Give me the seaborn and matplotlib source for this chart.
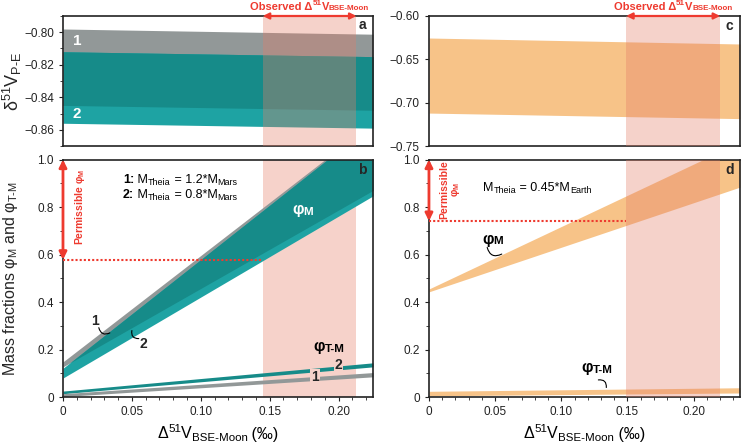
import numpy as np
import matplotlib
matplotlib.use('Agg')
import matplotlib.pyplot as plt
import matplotlib.transforms as mtransforms
from matplotlib.ticker import MultipleLocator, FuncFormatter
import seaborn as sns

# ---------------------------------------------------------------
# values (band edges at the x extent)
# ---------------------------------------------------------------
x_left = [0.0, 0.225]      # panels a, b  (Delta51V BSE-Moon, permil)
x_right = [0.0, 0.235]     # panels c, d

# panel a: delta51V P-E, case 1 (1.2 M_Mars) and case 2 (0.8 M_Mars)
a_band1_hi = [-0.798, -0.8012]
a_band1_lo = [-0.845, -0.848]
a_band2_hi = [-0.812, -0.815]
a_band2_lo = [-0.856, -0.859]

# panel b: mass fractions phi_M and phi_T-M
b_phiM1_hi = [0.148, 1.156]
b_phiM1_lo = [0.127, 0.870]
b_phiM2_hi = [0.121, 1.151]
b_phiM2_lo = [0.080, 0.847]
b_phiTM1_hi = [0.014, 0.103]
b_phiTM1_lo = [0.002, 0.085]
b_phiTM2_hi = [0.025, 0.144]
b_phiTM2_lo = [0.014, 0.127]
b_permissible = 0.578

# panel c: delta51V P-E, M_Theia = 0.45 M_Earth
c_band_hi = [-0.6254, -0.6323]
c_band_lo = [-0.712, -0.7184]

# panel d
d_phiM_hi = [0.455, 1.073]
d_phiM_lo = [0.443, 0.884]
d_phiTM_hi = [0.024, 0.039]
d_phiTM_lo = [0.005, 0.017]
d_permissible = 0.741

# observed Delta51V BSE-Moon range (shaded)
obs_left = [0.145, 0.213]
obs_right = [0.149, 0.220]

# colours
GRAY = '#929898'
TEAL_DARK = '#168b89'
TEAL_LIGHT = '#1ea3a3'
ORANGE = '#f7c388'
PINK = '#e57e68'
PINK_FLAT = '#f6d2ca'
RED = '#ee3a2f'

sns.set_theme(style='ticks')
plt.rcParams['font.family'] = ['Liberation Sans', 'DejaVu Sans']
plt.rcParams.update({
    'mathtext.fontset': 'custom',
    'mathtext.rm': 'Liberation Sans',
    'mathtext.it': 'Liberation Sans:italic',
    'mathtext.bf': 'Liberation Sans:bold',
    'axes.edgecolor': '#222222',
    'axes.linewidth': 1.2,
    'xtick.color': '#222222',
    'ytick.color': '#222222',
    'xtick.labelsize': 8.5,
    'ytick.labelsize': 8.5,
    'xtick.major.size': 3,
    'ytick.major.size': 3,
    'xtick.minor.size': 2,
    'ytick.minor.size': 2,
    'xtick.major.width': 0.8,
    'ytick.major.width': 0.8,
    'xtick.minor.width': 0.6,
    'ytick.minor.width': 0.6,
    'xtick.direction': 'out',
    'ytick.direction': 'out',
})

fig = plt.figure(figsize=(7.41, 4.43), dpi=100)
ax_a = fig.add_axes([0.085, 0.6704, 0.4184, 0.2935])
ax_b = fig.add_axes([0.085, 0.1038, 0.4184, 0.536])
ax_c = fig.add_axes([0.5789, 0.6704, 0.4197, 0.2935])
ax_d = fig.add_axes([0.5789, 0.1038, 0.4197, 0.536])

CENTERED = []


def rich_text(ax, x, y, parts, size, transform=None, color='black',
              weight='normal', sub_dy=-0.15, center=False, zorder=5):
    """Chain text pieces (normal / bold / sub / sup) along one baseline."""
    transform = transform or ax.transData
    pieces = []
    prev = None
    for s, kind in parts:
        small = kind in ('sub', 'sup')
        fs = size * 0.72 if small else size
        dy = {'sub': sub_dy * size, 'sup': 0.42 * size}.get(kind, 0.0)
        fw = 'bold' if (kind == 'b' or weight == 'bold') else 'normal'
        kw = dict(fontsize=fs, color=color, fontweight=fw, va='baseline',
                  ha='left', zorder=zorder)
        if prev is None:
            t = ax.text(x, y, s, transform=transform, **kw)
        else:
            t = ax.annotate(s, xy=(1, y), xycoords=(prev, transform),
                            xytext=(0, dy), textcoords='offset points',
                            annotation_clip=False, **kw)
        pieces.append(t)
        prev = t
    if center:
        CENTERED.append((pieces, transform))
    return pieces


def fmt(decimals):
    def f(v, pos):
        if abs(v) < 1e-9:
            return '0'
        return f'{v:.{decimals}f}'.replace('-', '\u2212')
    return FuncFormatter(f)


def overlap(ax, x, lo, hi, color, z):
    lo = np.asarray(lo)
    hi = np.asarray(hi)
    ax.fill_between(x, lo, hi, where=hi >= lo, interpolate=True,
                    color=color, lw=0, zorder=z)


def leader(ax, start, end, rad):
    ax.annotate('', xy=end, xytext=start,
                arrowprops=dict(arrowstyle='-', lw=0.8, color='black',
                                connectionstyle=f'arc3,rad={rad}',
                                shrinkA=0, shrinkB=0))


# ---------------- panel a ----------------
ax_a.fill_between(x_left, a_band1_lo, a_band1_hi, color=GRAY, lw=0, zorder=1)
ax_a.fill_between(x_left, a_band2_lo, a_band2_hi, color=TEAL_LIGHT, lw=0, zorder=1.1)
overlap(ax_a, x_left, a_band1_lo, a_band2_hi, TEAL_DARK, 1.2)
ax_a.axvspan(*obs_left, color=PINK, alpha=0.35, lw=0, zorder=3)
ax_a.set(xlim=x_left, ylim=(-0.87, -0.79))
ax_a.yaxis.set_major_locator(MultipleLocator(0.02))
ax_a.yaxis.set_minor_locator(MultipleLocator(0.01))
ax_a.yaxis.set_major_formatter(fmt(2))
ax_a.tick_params(axis='x', which='both', bottom=False, labelbottom=False)
ax_a.set_ylabel('δ$^{51}$V$_{\\text{P-E}}$', fontsize=13)
ax_a.yaxis.set_label_coords(-0.125, 0.5)
ax_a.text(0.007, -0.8053, '1', color='white', fontsize=11, fontweight='bold',
          va='center', zorder=4)
ax_a.text(0.007, -0.850, '2', color='white', fontsize=11, fontweight='bold',
          va='center', zorder=4)

# ---------------- panel b ----------------
ax_b.axvspan(*obs_left, color=PINK_FLAT, lw=0, zorder=0)
ax_b.fill_between(x_left, b_phiM1_lo, b_phiM1_hi, color=GRAY, lw=0, zorder=1)
ax_b.fill_between(x_left, b_phiM2_lo, b_phiM2_hi, color=TEAL_LIGHT, lw=0, zorder=1.1)
overlap(ax_b, x_left, b_phiM1_lo, b_phiM2_hi, TEAL_DARK, 1.2)
ax_b.fill_between(x_left, b_phiTM2_lo, b_phiTM2_hi, color=TEAL_DARK, lw=0, zorder=1)
ax_b.fill_between(x_left, b_phiTM1_lo, b_phiTM1_hi, color=GRAY, lw=0, zorder=1.1)
ax_b.set(xlim=x_left, ylim=(0, 1.0))

# ---------------- panel c ----------------
ax_c.fill_between(x_right, c_band_lo, c_band_hi, color=ORANGE, lw=0, zorder=1)
ax_c.axvspan(*obs_right, color=PINK, alpha=0.35, lw=0, zorder=3)
ax_c.set(xlim=x_right, ylim=(-0.75, -0.60))
ax_c.yaxis.set_major_locator(MultipleLocator(0.05))
ax_c.yaxis.set_major_formatter(fmt(2))
ax_c.tick_params(axis='x', which='both', bottom=False, labelbottom=False)

# ---------------- panel d ----------------
ax_d.fill_between(x_right, d_phiM_lo, d_phiM_hi, color=ORANGE, lw=0, zorder=1)
ax_d.fill_between(x_right, d_phiTM_lo, d_phiTM_hi, color=ORANGE, lw=0, zorder=1)
ax_d.axvspan(*obs_right, color=PINK, alpha=0.35, lw=0, zorder=3)
ax_d.set(xlim=x_right, ylim=(0, 1.0))

xlabel_parts = [('Δ', 'n'), ('51', 'sup'), ('V', 'n'), ('BSE-Moon', 'sub'),
                (' (‰)', 'n')]
for ax in (ax_b, ax_d):
    ax.xaxis.set_major_locator(MultipleLocator(0.05))
    ax.xaxis.set_minor_locator(MultipleLocator(0.01))
    ax.yaxis.set_major_locator(MultipleLocator(0.2))
    ax.yaxis.set_minor_locator(MultipleLocator(0.1))
    ax.xaxis.set_major_formatter(fmt(2))
    ax.yaxis.set_major_formatter(fmt(1))
    trans = mtransforms.blended_transform_factory(ax.transAxes, fig.transFigure)
    rich_text(ax, 0.5, 1 - 438.5 / 443, xlabel_parts, 11.5, transform=trans,
              center=True)

ax_b.set_ylabel('Mass fractions φ$_{\\text{M}}$ and φ$_{\\text{T-M}}$',
                fontsize=11.5)
ax_b.yaxis.set_label_coords(-0.14, 0.5)

# permissible phi_M thresholds and arrows
for ax, thr, obs in ((ax_b, b_permissible, obs_left), (ax_d, d_permissible, obs_right)):
    sns.lineplot(x=[0.0, obs[0]], y=[thr, thr], ax=ax, color=RED, lw=1.5,
                 dashes=False, linestyle=(0, (1, 1)), zorder=4)
    ax.annotate('', xy=(0, 1.0), xytext=(0, thr),
                arrowprops=dict(arrowstyle='<|-|>', color=RED, lw=2.0,
                                mutation_scale=11, shrinkA=0, shrinkB=0),
                zorder=5, annotation_clip=False)

ax_b.text(0.0125, 0.80, 'Permissible φ$_{\\mathbf{M}}$', color=RED, fontsize=7.5,
          fontweight='bold', rotation=90, ha='center', va='center', zorder=5)
ax_d.text(0.0165, 0.875, 'Permissible\nφ$_{\\mathbf{M}}$', color=RED, fontsize=7.5,
          fontweight='bold', rotation=90, ha='center', va='center',
          multialignment='center', linespacing=1.0, zorder=5)

# observed range arrows on top panels
for ax, obs in ((ax_a, obs_left), (ax_c, obs_right)):
    trans = mtransforms.blended_transform_factory(ax.transData, ax.transAxes)
    ax.annotate('', xy=(obs[1], 1.0), xytext=(obs[0], 1.0),
                xycoords=trans, textcoords=trans,
                arrowprops=dict(arrowstyle='<|-|>', color=RED, lw=1.6,
                                mutation_scale=9, shrinkA=0, shrinkB=0),
                zorder=5, annotation_clip=False)
    ftrans = mtransforms.blended_transform_factory(ax.transData, fig.transFigure)
    rich_text(ax, sum(obs) / 2, 1 - 9.5 / 443,
              [('Observed Δ', 'n'), ('51', 'sup'), ('V', 'n'), ('BSE-Moon', 'sub')],
              8, transform=ftrans, color=RED, weight='bold', sub_dy=-0.08,
              center=True)

# panel b annotations
rich_text(ax_b, 0.0435, 0.90,
          [('1:', 'b'), (' M', 'n'), ('Theia', 'sub'), (' = 1.2*M', 'n'), ('Mars', 'sub')],
          9)
rich_text(ax_b, 0.0435, 0.837,
          [('2:', 'b'), (' M', 'n'), ('Theia', 'sub'), (' = 0.8*M', 'n'), ('Mars', 'sub')],
          9)
rich_text(ax_b, 0.174, 0.77, [('φ', 'n'), ('M', 'sub')], 11.5, color='white',
          weight='bold', sub_dy=-0.03, center=True)
rich_text(ax_b, 0.193, 0.193, [('φ', 'n'), ('T-M', 'sub')], 11.5,
          weight='bold', sub_dy=-0.03, center=True)
ax_b.text(0.200, 0.133, '2', fontsize=10, fontweight='bold', ha='center',
          va='center', zorder=5,
          bbox=dict(facecolor=PINK_FLAT, edgecolor='none', pad=0.6))
ax_b.text(0.183, 0.085, '1', fontsize=10, fontweight='bold', ha='center',
          va='center', zorder=5,
          bbox=dict(facecolor=PINK_FLAT, edgecolor='none', pad=0.6))
ax_b.text(0.023, 0.322, '1', fontsize=10, fontweight='bold', ha='center', va='center')
leader(ax_b, (0.026, 0.292), (0.034, 0.270), 0.6)
ax_b.text(0.058, 0.222, '2', fontsize=10, fontweight='bold', ha='center', va='center')
leader(ax_b, (0.050, 0.280), (0.055, 0.246), 0.6)

# panel d annotations
rich_text(ax_d, 0.041, 0.868,
          [('M', 'n'), ('Theia', 'sub'), (' = 0.45*M', 'n'), ('Earth', 'sub')], 9)
rich_text(ax_d, 0.048, 0.646, [('φ', 'n'), ('M', 'sub')], 11.5,
          weight='bold', sub_dy=-0.03, center=True)
leader(ax_d, (0.044, 0.630), (0.055, 0.602), 0.6)
rich_text(ax_d, 0.127, 0.104, [('φ', 'n'), ('T-M', 'sub')], 11.5,
          weight='bold', sub_dy=-0.03, center=True)
leader(ax_d, (0.128, 0.072), (0.134, 0.040), -0.6)

# panel letters
for ax, lab, ypos in ((ax_a, 'a', 0.93), (ax_b, 'b', 0.955),
                      (ax_c, 'c', 0.92), (ax_d, 'd', 0.955)):
    ax.text(0.966, ypos, lab, transform=ax.transAxes, fontsize=10,
            fontweight='bold', ha='center', va='center', zorder=6)

# centre the chained labels once their widths are known
fig.canvas.draw()
renderer = fig.canvas.get_renderer()
for pieces, transform in CENTERED:
    boxes = [p.get_window_extent(renderer) for p in pieces]
    width = max(b.x1 for b in boxes) - boxes[0].x0
    pieces[0].set_transform(transform + mtransforms.Affine2D().translate(-width / 2, 0))

fig.savefig('out.png', dpi=100)
